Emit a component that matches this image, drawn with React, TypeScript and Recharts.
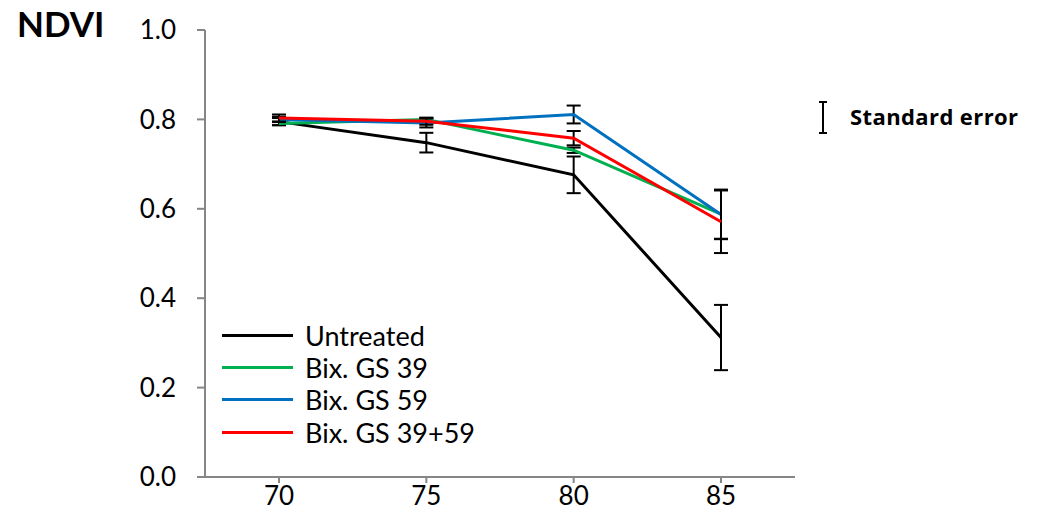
import React from 'react'
import {
  LineChart,
  Line,
  XAxis,
  YAxis,
  ErrorBar,
  Legend,
} from 'recharts'

const FONT = 'Lato, "Open Sans", sans-serif'

// growth stage (x) categories
const stages = ['70', '75', '80', '85']
const yTicks = [0, 0.2, 0.4, 0.6, 0.8, 1.0]

// NDVI means and standard errors per treatment
const untreated = [0.795, 0.748, 0.676, 0.312]
const untreatedErr = [0.008, 0.022, 0.041, 0.073]
const gs39 = [0.791, 0.8, 0.731, 0.588]
const gs39Err = [0.004, 0.003, 0.006, 0.055]
const gs59 = [0.8, 0.792, 0.811, 0.587]
const gs59Err = [0.006, 0.01, 0.02, 0.055]
const gs3959 = [0.803, 0.796, 0.758, 0.571]
const gs3959Err = [0.008, 0.008, 0.016, 0.07]

const series = [
  { key: 'untreated', name: 'Untreated', color: '#000000', values: untreated, err: untreatedErr },
  { key: 'gs39', name: 'Bix. GS 39', color: '#00B050', values: gs39, err: gs39Err },
  { key: 'gs59', name: 'Bix. GS 59', color: '#0070C0', values: gs59, err: gs59Err },
  { key: 'gs3959', name: 'Bix. GS 39+59', color: '#FF0000', values: gs3959, err: gs3959Err },
]

const data = stages.map((stage, i) => {
  const row: Record<string, string | number> = { stage }
  series.forEach((s) => {
    row[s.key] = s.values[i]
    row[s.key + 'Err'] = s.err[i]
  })
  return row
})

// keep the series order instead of the legend's sorted payload
function LegendBox() {
  return (
    <div style={{ fontFamily: FONT, fontSize: 27 }}>
      {series.map((s) => (
        <div key={s.key} style={{ display: 'flex', alignItems: 'center', height: 32.3 }}>
          <div style={{ width: 71, height: 3, background: s.color, marginRight: 12 }} />
          <span style={{ color: '#000', lineHeight: 1 }}>{s.name}</span>
        </div>
      ))}
    </div>
  )
}

export default function App() {
  const tick = { fontFamily: FONT, fontSize: 26, fill: '#000' }
  const pad = { left: 74, right: 74 }
  return (
    <div style={{ position: 'relative', width: 1025, height: 509, background: '#fff' }}>
      <div
        style={{
          position: 'absolute',
          left: 9,
          top: -2,
          fontFamily: FONT,
          fontWeight: 700,
          fontSize: 35,
          lineHeight: 1,
        }}
      >
        NDVI
      </div>

      <LineChart
        width={1025}
        height={509}
        data={data}
        margin={{ top: 22, right: 238, left: 0, bottom: 0 }}
      >
        <XAxis
          dataKey="stage"
          height={40}
          padding={pad}
          axisLine={{ stroke: '#868686', strokeWidth: 2 }}
          tickLine={{ stroke: '#868686', strokeWidth: 2 }}
          tickSize={6}
          tickMargin={4}
          tick={tick}
        />
        <XAxis
          xAxisId="top"
          orientation="top"
          dataKey="stage"
          height={0}
          padding={pad}
          tick={false}
          tickLine={false}
          axisLine={{ stroke: '#000', strokeWidth: 2 }}
        />
        <YAxis
          domain={[0, 1]}
          ticks={yTicks}
          width={197}
          axisLine={{ stroke: '#868686', strokeWidth: 2 }}
          tickLine={{ stroke: '#868686', strokeWidth: 2 }}
          tickSize={8}
          tickMargin={21}
          tick={tick}
          tickFormatter={(v: number) => v.toFixed(1)}
        />
        <YAxis
          yAxisId="right"
          orientation="right"
          domain={[0, 1]}
          width={0}
          tick={false}
          tickLine={false}
          axisLine={{ stroke: '#000', strokeWidth: 2 }}
        />
        <Legend
          layout="vertical"
          align="center"
          verticalAlign="middle"
          wrapperStyle={{ left: 214, top: 311, width: 280 }}
          content={<LegendBox />}
        />
        {series.map((s) => (
          <Line
            key={s.key}
            dataKey={s.key}
            name={s.name}
            stroke={s.color}
            strokeWidth={3}
            dot={false}
            activeDot={false}
            isAnimationActive={false}
          >
            <ErrorBar dataKey={s.key + 'Err'} stroke="#000" strokeWidth={2} width={7} isAnimationActive={false} />
          </Line>
        ))}
      </LineChart>

      {/* standard error key */}
      <svg style={{ position: 'absolute', left: 808, top: 92 }} width={14} height={36}>
        <line x1={7} y1={2} x2={7} y2={33} stroke="#000" strokeWidth={2} />
        <line x1={3} y1={2} x2={11} y2={2} stroke="#000" strokeWidth={2} />
        <line x1={3} y1={33} x2={11} y2={33} stroke="#000" strokeWidth={2} />
      </svg>
      <div
        style={{
          position: 'absolute',
          left: 842,
          top: 97,
          fontFamily: '"Open Sans", sans-serif',
          fontWeight: 700,
          fontSize: 22,
          letterSpacing: 0.4,
          lineHeight: 1,
        }}
      >
        Standard error
      </div>
    </div>
  )
}
